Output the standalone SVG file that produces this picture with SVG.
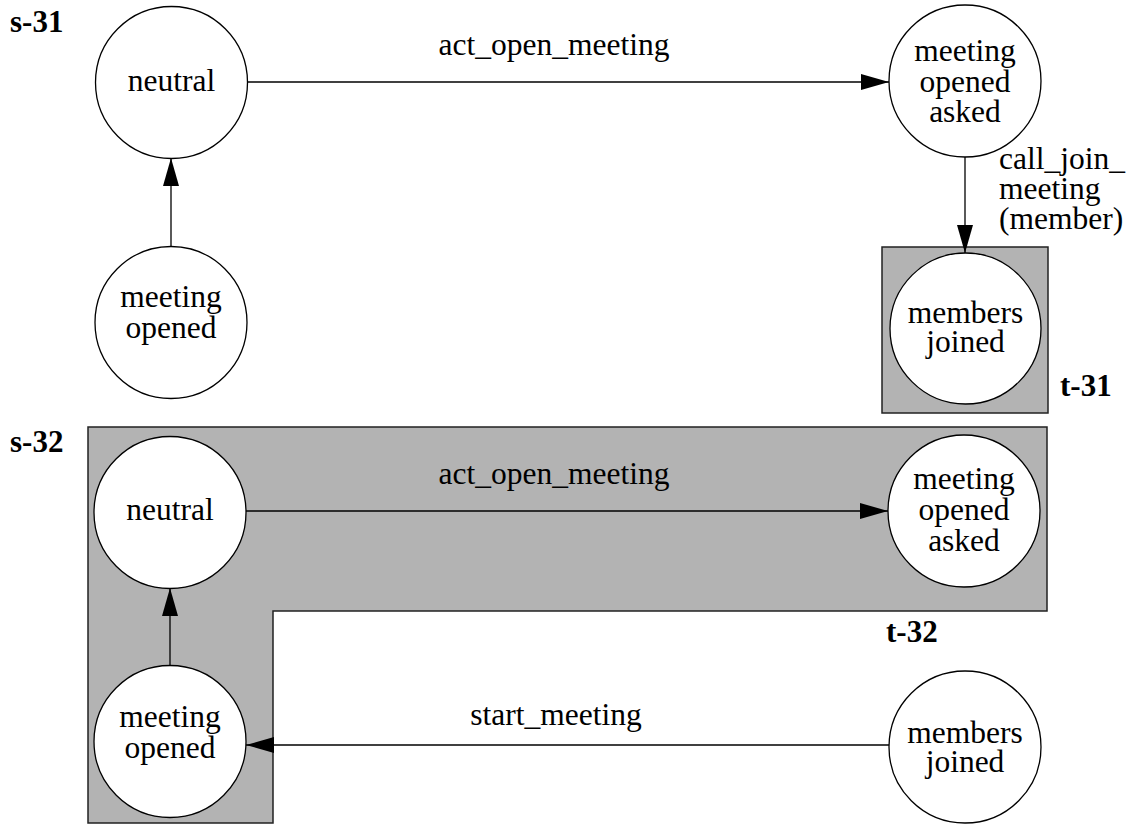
<svg xmlns="http://www.w3.org/2000/svg" width="1134" height="825" viewBox="0 0 1134 825">
<style>
.st{fill:#fff;stroke:#000;stroke-width:1.3}
.lbl{font-family:"Liberation Serif","Times New Roman",serif;font-size:31.5px;fill:#000;text-anchor:middle}
.el{font-family:"Liberation Serif","Times New Roman",serif;font-size:31.5px;fill:#000}
.hd{font-family:"Liberation Serif","Times New Roman",serif;font-size:31px;font-weight:bold;fill:#000}
.grp{fill:#b3b3b3;stroke:#222;stroke-width:1.5}
.edge{stroke:#000;stroke-width:1.3;fill:none;marker-end:url(#ah)}
</style>
<defs>
<marker id="ah" markerUnits="userSpaceOnUse" markerWidth="28" markerHeight="16" refX="28" refY="8" orient="auto">
<path d="M0,0 L28,8 L0,16 Z" fill="#000"/>
</marker>
</defs>
<rect width="1134" height="825" fill="#fff"/>
<g id="clusters">
<rect id="t-31-box" class="grp" x="882" y="247" width="166" height="166"/>
<path id="t-32-box" class="grp" d="M88,427 H1047 V611 H273 V823 H88 Z"/>
</g>
<g id="titles">
<text class="hd" x="10" y="32">s-31</text>
<text class="hd" x="1060" y="396">t-31</text>
<text class="hd" x="10" y="452">s-32</text>
<text class="hd" x="886" y="642">t-32</text>
</g>
<g id="connectors">
<line class="edge" x1="247" y1="82" x2="889" y2="82"/>
<text class="lbl" x="554" y="55">act_open_meeting</text>
<line class="edge" x1="171" y1="247" x2="171" y2="158"/>
<line class="edge" x1="965" y1="157" x2="965" y2="253"/>
<text class="el" x="999" y="169">call_join_</text>
<text class="el" x="999" y="199">meeting</text>
<text class="el" x="999" y="229">(member)</text>
<line class="edge" x1="246" y1="511" x2="888" y2="511"/>
<text class="lbl" x="554" y="484">act_open_meeting</text>
<line class="edge" x1="170" y1="666" x2="170" y2="588"/>
<line class="edge" x1="889" y1="745" x2="246" y2="745"/>
<text class="lbl" x="556" y="725">start_meeting</text>
</g>
<g id="s31-neutral">
<circle class="st" cx="171.5" cy="82.5" r="76"/>
<text class="lbl" x="171.5" y="91">neutral</text>
</g>
<g id="s31-meeting-opened-asked">
<circle class="st" cx="965" cy="81" r="76"/>
<text class="lbl" x="965" y="61">meeting</text>
<text class="lbl" x="965" y="92">opened</text>
<text class="lbl" x="965" y="122">asked</text>
</g>
<g id="s31-meeting-opened">
<circle class="st" cx="171" cy="322.5" r="76"/>
<text class="lbl" x="171" y="307">meeting</text>
<text class="lbl" x="171" y="338">opened</text>
</g>
<g id="s31-members-joined">
<circle class="st" cx="965.5" cy="328.5" r="75.5"/>
<text class="lbl" x="965.5" y="323">members</text>
<text class="lbl" x="965.5" y="352">joined</text>
</g>
<g id="s32-neutral">
<circle class="st" cx="170" cy="512.5" r="76"/>
<text class="lbl" x="170" y="520">neutral</text>
</g>
<g id="s32-meeting-opened-asked">
<circle class="st" cx="964" cy="511" r="76"/>
<text class="lbl" x="964" y="489">meeting</text>
<text class="lbl" x="964" y="520">opened</text>
<text class="lbl" x="964" y="551">asked</text>
</g>
<g id="s32-meeting-opened">
<circle class="st" cx="170" cy="741.5" r="76"/>
<text class="lbl" x="170" y="727">meeting</text>
<text class="lbl" x="170" y="758">opened</text>
</g>
<g id="s32-members-joined">
<circle class="st" cx="965" cy="747" r="76"/>
<text class="lbl" x="965" y="743">members</text>
<text class="lbl" x="965" y="772">joined</text>
</g>
</svg>
